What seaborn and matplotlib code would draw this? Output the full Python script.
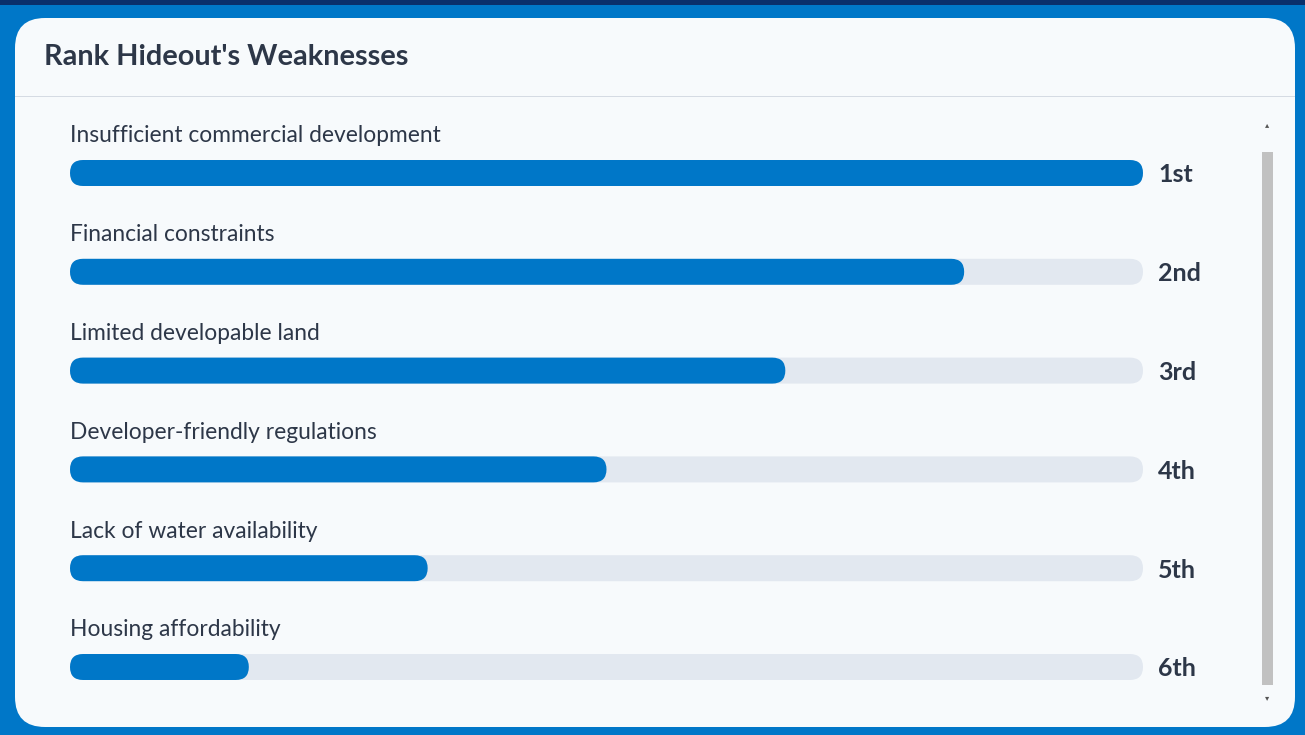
import matplotlib
matplotlib.use("Agg")
import matplotlib.pyplot as plt
import seaborn as sns
import pandas as pd
from matplotlib.patches import FancyBboxPatch, Rectangle
from matplotlib.transforms import IdentityTransform

title = "Rank Hideout's Weaknesses"
weaknesses = [
    "Insufficient commercial development",
    "Financial constraints",
    "Limited developable land",
    "Developer-friendly regulations",
    "Lack of water availability",
    "Housing affordability",
]
scores = [6, 5, 4, 3, 2, 1]
max_score = 6
ranks = ["1st", "2nd", "3rd", "4th", "5th", "6th"]

df = pd.DataFrame({"weakness": weaknesses, "score": scores, "track": [max_score] * len(scores)})

sns.set_theme(style="white")
plt.rcParams["font.family"] = ["Lato", "DejaVu Sans"]

W, H = 1305, 735
fig = plt.figure(figsize=(W / 100, H / 100), dpi=100)
fig.patch.set_facecolor("#0077c8")

# page background / card
fig.add_artist(Rectangle((0, 1 - 5 / H), 1, 5 / H, transform=fig.transFigure,
                         facecolor="#0a2f6b", edgecolor="none", zorder=0))
card = FancyBboxPatch((15, H - 727), 1280, 709, boxstyle="round,pad=0,rounding_size=30",
                      transform=IdentityTransform(), facecolor="#f7fafc", edgecolor="none", zorder=1)
fig.add_artist(card)
fig.add_artist(Rectangle((15, H - 97), 1280, 1.5, transform=IdentityTransform(),
                         facecolor="#d5dbe3", edgecolor="none", zorder=2))
fig.text(44 / W, 1 - 57 / H, title, fontsize=20.8, fontweight="bold", color="#2d3748",
         va="center", ha="left", zorder=3)

# scrollbar
fig.add_artist(Rectangle((1262, H - 685), 11, 533, transform=IdentityTransform(),
                         facecolor="#c1c1c1", edgecolor="none", zorder=2))
fig.text(1267.5 / W, 1 - 125 / H, "▴", fontsize=6, color="#555555", ha="center", va="center",
         family="DejaVu Sans", zorder=3)
fig.text(1267.5 / W, 1 - 698 / H, "▾", fontsize=6, color="#555555", ha="center", va="center",
         family="DejaVu Sans", zorder=3)

ax = fig.add_axes([70 / W, 1 - 716.4 / H, 1073 / W, (716.4 - 123.6) / H])
ax.set_facecolor("none")
ax.set_zorder(3)

sns.barplot(data=df, x="track", y="weakness", color="#e2e8f0", width=0.263,
            saturation=1, ax=ax, orient="h")
sns.barplot(data=df, x="score", y="weakness", color="#0077c8", width=0.263,
            saturation=1, ax=ax, orient="h")
ax.set_xlim(0, max_score)
ax.set_ylim(5.5, -0.5)
ax.axis("off")

for i, (name, rank) in enumerate(zip(weaknesses, ranks)):
    ax.text(0, i - 0.31, name, fontsize=16.4, color="#2d3748", ha="left", va="baseline")
    ax.text(max_score * 1.0143, i + 0.02, rank, fontsize=18, fontweight="bold",
            color="#2d3748", ha="left", va="center")

# swap the rectangular bars for pill-shaped ones
fig.canvas.draw()
for p in list(ax.patches):
    bb = p.get_window_extent()
    if bb.width <= 0:
        continue
    pill = FancyBboxPatch((bb.x0, bb.y0), bb.width, bb.height,
                          boxstyle="round,pad=0,rounding_size=%f" % (bb.height / 2),
                          transform=IdentityTransform(), facecolor=p.get_facecolor(),
                          edgecolor="none", zorder=3)
    p.remove()
    fig.add_artist(pill)

fig.savefig("out.png", dpi=100)
